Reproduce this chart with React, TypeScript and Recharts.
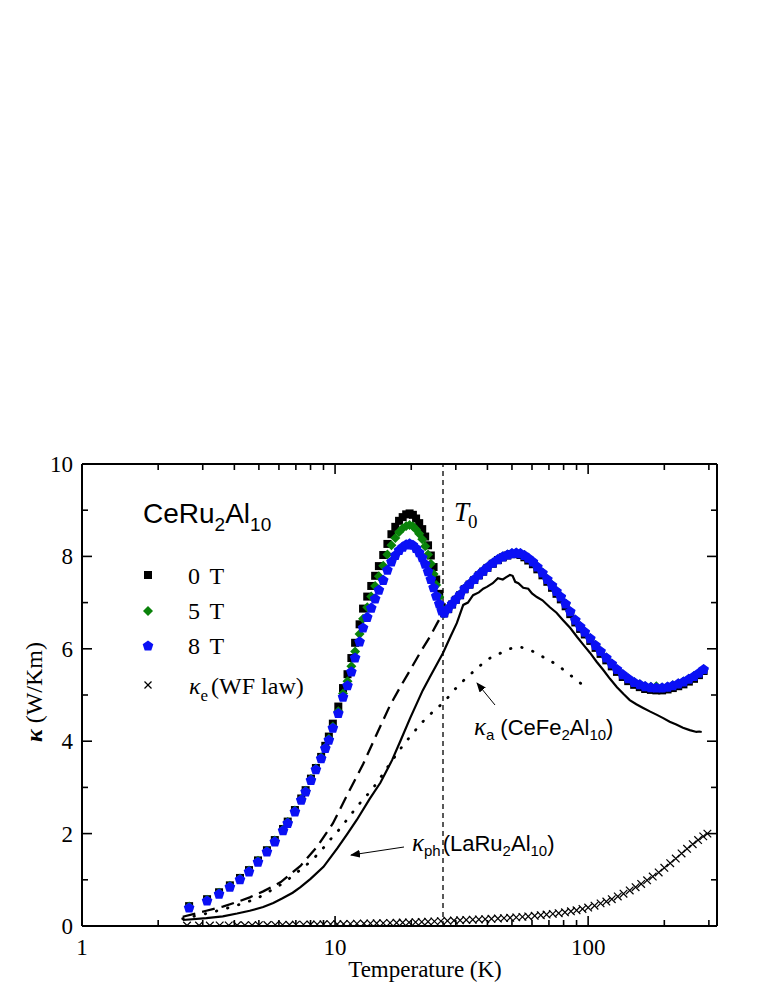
import React from "react";
import { ComposedChart, Line, Scatter, XAxis, YAxis, ReferenceLine } from "recharts";

// ---------------- data ----------------
const temps = [2.65, 3.12, 3.48, 3.84, 4.21, 4.57, 4.96, 5.38, 5.78, 6.23, 6.5, 6.94, 7.35, 7.65, 8.03, 8.4, 8.81, 9.15, 9.45, 9.8,
  10.3, 10.75, 11.2, 11.6, 12.0, 12.5, 12.9, 13.4, 13.9, 14.4, 14.9, 15.5, 16.1, 16.7, 17.3, 17.9, 18.5, 19.1, 19.7, 20.3,
  20.9, 21.5, 22.1, 22.7, 23.3, 23.9, 24.5, 25.1, 25.8, 26.4, 27.0, 28, 29, 30, 31.2, 32.5, 34, 35.5, 37, 38.5,
  40, 42, 44, 46, 48, 50, 52, 54, 56, 58, 60.5, 63, 66, 69, 72, 75, 78, 81.5, 85, 89,
  93, 97, 102, 107, 112, 118, 124, 130, 137, 144, 152, 160, 168, 177, 186, 196, 206, 216, 227, 238,
  250, 262, 274, 286];

const kappa8T = [0.39, 0.54, 0.69, 0.84, 1.0, 1.17, 1.38, 1.6, 1.82, 2.06, 2.22, 2.47, 2.72, 2.9, 3.15, 3.38, 3.62, 3.84, 4.02, 4.28,
  4.6, 4.95, 5.2, 5.5, 5.8, 6.15, 6.45, 6.68, 6.88, 7.08, 7.27, 7.48, 7.7, 7.88, 8.02, 8.13, 8.2, 8.25, 8.27, 8.24,
  8.17, 8.08, 7.97, 7.83, 7.67, 7.5, 7.32, 7.14, 6.97, 6.82, 6.77, 6.87, 6.97, 7.07, 7.17, 7.3, 7.4, 7.5, 7.6, 7.68,
  7.76, 7.85, 7.93, 7.99, 8.03, 8.06, 8.07, 8.06, 8.02, 7.96, 7.88, 7.77, 7.64, 7.5, 7.37, 7.24, 7.12, 6.97, 6.8, 6.62,
  6.48, 6.36, 6.22, 6.07, 5.94, 5.8, 5.67, 5.55, 5.44, 5.35, 5.27, 5.22, 5.18, 5.16, 5.15, 5.15, 5.17, 5.2, 5.24, 5.28,
  5.34, 5.4, 5.47, 5.55];

const kappa5T = [0.42, 0.57, 0.72, 0.87, 1.03, 1.2, 1.41, 1.63, 1.85, 2.09, 2.25, 2.5, 2.75, 2.93, 3.18, 3.41, 3.65, 3.87, 4.06, 4.32,
  4.65, 5.03, 5.3, 5.62, 5.94, 6.32, 6.65, 6.9, 7.13, 7.36, 7.57, 7.8, 8.04, 8.24, 8.4, 8.53, 8.61, 8.66, 8.68, 8.65,
  8.58, 8.49, 8.37, 8.22, 8.04, 7.84, 7.62, 7.38, 7.12, 6.88, 6.77, 6.88, 6.98, 7.08, 7.18, 7.31, 7.41, 7.51, 7.61, 7.69,
  7.77, 7.86, 7.94, 8.0, 8.04, 8.07, 8.08, 8.07, 8.03, 7.97, 7.89, 7.78, 7.65, 7.51, 7.38, 7.25, 7.13, 6.98, 6.81, 6.63,
  6.49, 6.37, 6.23, 6.08, 5.95, 5.81, 5.68, 5.56, 5.45, 5.36, 5.28, 5.23, 5.19, 5.18, 5.19, 5.16, 5.18, 5.21, 5.25, 5.29,
  5.35, 5.41, 5.48, 5.56];

const kappa0T = [0.43, 0.58, 0.73, 0.88, 1.04, 1.21, 1.42, 1.64, 1.86, 2.1, 2.26, 2.51, 2.76, 2.94, 3.19, 3.42, 3.66, 3.9, 4.1, 4.38,
  4.75, 5.15, 5.45, 5.8, 6.13, 6.53, 6.87, 7.13, 7.36, 7.58, 7.79, 8.03, 8.27, 8.48, 8.64, 8.77, 8.85, 8.91, 8.93, 8.9,
  8.82, 8.72, 8.59, 8.43, 8.24, 8.02, 7.77, 7.5, 7.19, 6.9, 6.77, 6.86, 6.96, 7.06, 7.16, 7.29, 7.39, 7.49, 7.59, 7.67,
  7.75, 7.84, 7.92, 7.98, 8.02, 8.05, 8.05, 8.03, 7.98, 7.91, 7.83, 7.72, 7.59, 7.45, 7.32, 7.19, 7.07, 6.92, 6.75, 6.57,
  6.43, 6.31, 6.17, 6.02, 5.89, 5.75, 5.62, 5.5, 5.39, 5.3, 5.22, 5.17, 5.13, 5.11, 5.1, 5.1, 5.12, 5.15, 5.19, 5.23,
  5.29, 5.35, 5.43, 5.52];

// kappa_ph (LaRu2Al10) - solid line
const phT = [2.5, 3.1, 3.6, 4.1, 4.6, 5.2, 5.7, 6.2, 6.8, 7.3, 8.0, 9.0, 10.2, 11.2, 12.2, 13.7, 15.1, 16.8, 18.1, 19.8,
  22.2, 23.7, 26.7, 28.5, 30.3, 32.1, 33.5, 35.1, 37, 38.5, 39.8, 42, 44, 46, 47.5, 49.1, 50.3, 51.5, 53, 55.4,
  58, 60, 62.7, 66, 70.6, 75, 79.6, 85, 90.3, 96, 101.8, 108, 114.8, 122, 130, 138, 146, 155, 165, 176,
  187, 198, 210, 223, 237, 252, 268, 275, 281];
const phK = [0.13, 0.17, 0.21, 0.27, 0.33, 0.41, 0.5, 0.6, 0.72, 0.84, 1.02, 1.28, 1.68, 2.0, 2.3, 2.75, 3.1, 3.59, 4.0, 4.5,
  5.1, 5.39, 5.91, 6.25, 6.56, 6.95, 7.0, 7.16, 7.22, 7.3, 7.34, 7.42, 7.53, 7.5, 7.55, 7.6, 7.58, 7.45, 7.42, 7.32,
  7.3, 7.2, 7.12, 7.05, 6.9, 6.78, 6.62, 6.45, 6.26, 6.08, 5.91, 5.72, 5.54, 5.35, 5.17, 5.02, 4.89, 4.8, 4.72, 4.64,
  4.57, 4.5, 4.42, 4.36, 4.29, 4.24, 4.2, 4.21, 4.2];

// dashed line
const dashT = [2.5, 3.1, 3.6, 4.1, 4.6, 5.2, 6.1, 7.3, 8.5, 9.8, 11.2, 12.9, 14.6, 16.5, 18.0, 19.8, 21.7, 23.7, 25.3, 26.7];
const dashK = [0.2, 0.33, 0.42, 0.52, 0.62, 0.75, 0.95, 1.3, 1.72, 2.22, 2.85, 3.5, 4.15, 4.78, 5.15, 5.54, 5.92, 6.26, 6.55, 6.78];

// kappa_a (CeFe2Al10) - dotted line
const dotT = [2.5, 3.1, 3.6, 4.1, 4.6, 5.0, 5.5, 6.0, 6.6, 7.3, 8.0, 8.7, 9.5, 10.5, 11.5, 12.5, 14.1, 15.5, 17.0, 18.5,
  19.8, 22.2, 24.4, 26.7, 30.3, 35.1, 41, 46.2, 52.4, 59, 66.5, 75.3, 85, 97.5];
const dotK = [0.16, 0.27, 0.36, 0.45, 0.54, 0.62, 0.75, 0.87, 1.03, 1.22, 1.4, 1.6, 1.85, 2.12, 2.4, 2.65, 2.98, 3.3, 3.62, 3.9,
  4.1, 4.42, 4.64, 4.83, 5.17, 5.5, 5.8, 5.93, 6.04, 5.97, 5.82, 5.65, 5.43, 5.17];

// kappa_e (WF law)
const eT = [2.6, 2.9, 3.2, 3.5, 3.8, 4.1, 4.4, 4.7, 5.0, 5.4, 5.8, 6.2, 6.6, 7.0, 7.5, 8.0, 8.5, 9.0, 9.6, 10.2,
  10.8, 11.5, 12.2, 13.0, 13.8, 14.6, 15.5, 16.5, 17.5, 18.5, 19.6, 20.8, 22.0, 23.3, 24.7, 26.2, 27.8, 29.5, 31.2, 33.0,
  35.0, 37.0, 39.2, 41.5, 44.0, 46.5, 49.2, 52.0, 55.0, 58.0, 61.5, 65.0, 68.5, 72.5, 76.5, 81.0, 85.5, 90.0, 95.0, 100,
  106, 112, 118, 124, 131, 138, 146, 154, 162, 171, 180, 190, 200, 211, 222, 234, 246, 259, 272, 285, 296];
const eK = [0.01, 0.01, 0.01, 0.012, 0.013, 0.015, 0.016, 0.017, 0.018, 0.02, 0.022, 0.024, 0.026, 0.028, 0.03, 0.032, 0.034, 0.036, 0.038, 0.04,
  0.043, 0.046, 0.049, 0.052, 0.055, 0.058, 0.062, 0.066, 0.07, 0.074, 0.078, 0.083, 0.088, 0.093, 0.1, 0.106, 0.112, 0.118, 0.124, 0.13,
  0.136, 0.142, 0.148, 0.155, 0.162, 0.17, 0.178, 0.187, 0.197, 0.207, 0.22, 0.233, 0.247, 0.262, 0.278, 0.296, 0.318, 0.34, 0.37, 0.4,
  0.44, 0.49, 0.53, 0.58, 0.64, 0.7, 0.77, 0.84, 0.91, 0.99, 1.07, 1.16, 1.26, 1.36, 1.46, 1.57, 1.67, 1.77, 1.86, 1.94, 2.0];

const T0 = 26.7;
const xTicks = [1, 2, 3, 4, 5, 6, 7, 8, 9, 10, 20, 30, 40, 50, 60, 70, 80, 90, 100, 200, 300];
const xMajorTicks = [1, 10, 100];
const yTicks = [0, 1, 2, 3, 4, 5, 6, 7, 8, 9, 10];
const yMajorTicks = [0, 2, 4, 6, 8, 10];

// ---------------- build tables ----------------
const toRows = (xs: number[], ys: number[]) => xs.map((t, i) => ({ T: t, k: ys[i] }));
const rows0T = toRows(temps, kappa0T);
const rows5T = toRows(temps, kappa5T);
const rows8T = toRows(temps, kappa8T);
const rowsPh = toRows(phT, phK);
const rowsDash = toRows(dashT, dashK);
const rowsDot = toRows(dotT, dotK);
const rowsE = toRows(eT, eK);

const SERIF = "'Liberation Serif', 'Times New Roman', serif";
const SANS = "'Liberation Sans', Arial, sans-serif";

// ---------------- ticks ----------------
const XTickBottom = (p: any) => {
  const { x, y, payload } = p;
  const v = payload.value;
  const major = xMajorTicks.includes(v);
  return (
    <g>
      <line x1={x} y1={y} x2={x} y2={y - (major ? 10 : 6)} stroke="#000" strokeWidth={1.6} />
      {major && (
        <text x={x} y={y + 29} textAnchor="middle" fontFamily={SERIF} fontSize={23} fill="#000">
          {v}
        </text>
      )}
    </g>
  );
};
const XTickTop = (p: any) => {
  const { x, y, payload } = p;
  const major = xMajorTicks.includes(payload.value);
  return <line x1={x} y1={y} x2={x} y2={y + (major ? 10 : 6)} stroke="#000" strokeWidth={1.6} />;
};
const YTickLeft = (p: any) => {
  const { x, y, payload } = p;
  const v = payload.value;
  const major = yMajorTicks.includes(v);
  return (
    <g>
      <line x1={x} y1={y} x2={x + (major ? 10 : 6)} y2={y} stroke="#000" strokeWidth={1.6} />
      {major && (
        <text x={x - 9} y={y + 8} textAnchor="end" fontFamily={SERIF} fontSize={23} fill="#000">
          {v}
        </text>
      )}
    </g>
  );
};
const YTickRight = (p: any) => {
  const { x, y, payload } = p;
  const major = yMajorTicks.includes(payload.value);
  return <line x1={x} y1={y} x2={x - (major ? 10 : 6)} y2={y} stroke="#000" strokeWidth={1.6} />;
};

// ---------------- markers ----------------
const SquareMark = (p: any) => {
  const { cx, cy } = p;
  if (cx == null || cy == null) return null;
  return <rect x={cx - 4} y={cy - 4} width={8} height={8} fill="#000" />;
};
const DiamondMark = (p: any) => {
  const { cx, cy } = p;
  if (cx == null || cy == null) return null;
  const r = 5;
  return <polygon points={`${cx},${cy - r} ${cx + r},${cy} ${cx},${cy + r} ${cx - r},${cy}`} fill="#0a820a" />;
};
const pentPts = (cx: number, cy: number, r: number) =>
  [0, 1, 2, 3, 4]
    .map((i) => {
      const a = -Math.PI / 2 + (i * 2 * Math.PI) / 5;
      return `${cx + r * Math.cos(a)},${cy + r * Math.sin(a)}`;
    })
    .join(" ");
const PentagonMark = (p: any) => {
  const { cx, cy } = p;
  if (cx == null || cy == null) return null;
  return <polygon points={pentPts(cx, cy, 5.6)} fill="#0a10f5" />;
};
const CrossMark = (p: any) => {
  const { cx, cy } = p;
  if (cx == null || cy == null) return null;
  const r = 3.8;
  return (
    <g stroke="#000" strokeWidth={1.2}>
      <line x1={cx - r} y1={cy - r} x2={cx + r} y2={cy + r} />
      <line x1={cx - r} y1={cy + r} x2={cx + r} y2={cy - r} />
    </g>
  );
};
const NoMark = () => null;

// ---------------- overlay (legend, annotations) ----------------
const Overlay = () => (
  <svg width={764} height={985} style={{ position: "absolute", left: 0, top: 0, pointerEvents: "none" }}>
    <defs>
      <marker id="ah" markerWidth="10" markerHeight="8" refX="9" refY="4" orient="auto" markerUnits="userSpaceOnUse">
        <path d="M0,0 L10,4 L0,8 z" fill="#000" />
      </marker>
    </defs>
    {/* y axis title */}
    <text transform="translate(42,692) rotate(-90)" textAnchor="middle" fontFamily={SERIF} fontSize={24} fill="#000">
      <tspan fontStyle="italic" fontWeight="bold">κ</tspan> (W/Km)
    </text>
    {/* x axis title */}
    <text x={425} y={977} textAnchor="middle" fontFamily={SERIF} fontSize={23} fill="#000">
      Temperature (K)
    </text>
    {/* legend title */}
    <text x={143} y={523} fontFamily={SANS} fontSize={28} fill="#000">
      CeRu<tspan fontSize={19} dy={8}>2</tspan>
      <tspan dy={-8}>Al</tspan>
      <tspan fontSize={19} dy={8}>10</tspan>
    </text>
    {/* legend items */}
    <rect x={144} y={571} width={8} height={8} fill="#000" />
    <text x={188} y={584} fontFamily={SERIF} fontSize={24} fill="#000" wordSpacing={4}>0 T</text>
    <polygon points="148,606 153,611 148,616 143,611" fill="#0a820a" />
    <text x={188} y={619} fontFamily={SERIF} fontSize={24} fill="#000" wordSpacing={4}>5 T</text>
    <polygon points={pentPts(148, 646, 5.6)} fill="#0a10f5" />
    <text x={188} y={654} fontFamily={SERIF} fontSize={24} fill="#000" wordSpacing={4}>8 T</text>
    <g stroke="#000" strokeWidth={1.3}>
      <line x1={144.5} y1={681.5} x2={151.5} y2={688.5} />
      <line x1={144.5} y1={688.5} x2={151.5} y2={681.5} />
    </g>
    <text x={189} y={694} fontFamily={SERIF} fontSize={24} fill="#000">
      <tspan fontStyle="italic">κ</tspan>
      <tspan fontSize={17} dy={7}>e</tspan>
      <tspan dy={-7} dx={3}>(WF law)</tspan>
    </text>
    {/* T0 */}
    <text x={454} y={521} fontFamily={SERIF} fontSize={27} fontStyle="italic" fill="#000">T</text>
    <text x={468} y={528} fontFamily={SERIF} fontSize={19} fill="#000">0</text>
    {/* kappa_a annotation */}
    <line x1={495} y1={705} x2={477} y2={683} stroke="#000" strokeWidth={1} markerEnd="url(#ah)" />
    <text x={474} y={735} fontFamily={SANS} fontSize={22} fill="#000">
      <tspan fontFamily={SERIF} fontStyle="italic" fontSize={25}>κ</tspan>
      <tspan fontSize={15} dy={5}>a</tspan>
      <tspan dy={-5} dx={6}>(CeFe</tspan>
      <tspan fontSize={15} dy={5}>2</tspan>
      <tspan dy={-5}>Al</tspan>
      <tspan fontSize={15} dy={5}>10</tspan>
      <tspan dy={-5}>)</tspan>
    </text>
    {/* kappa_ph annotation */}
    <line x1={404} y1={847} x2={351} y2={855} stroke="#000" strokeWidth={1} markerEnd="url(#ah)" />
    <text x={412} y={851} fontFamily={SANS} fontSize={22} fill="#000">
      <tspan fontFamily={SERIF} fontStyle="italic" fontSize={25}>κ</tspan>
      <tspan fontSize={15} dy={5}>ph</tspan>
      <tspan dy={-5} dx={2}>(LaRu</tspan>
      <tspan fontSize={15} dy={5}>2</tspan>
      <tspan dy={-5}>Al</tspan>
      <tspan fontSize={15} dy={5}>10</tspan>
      <tspan dy={-5}>)</tspan>
    </text>
  </svg>
);

export default function App() {
  return (
    <div style={{ position: "relative", width: 764, height: 985 }}>
      <style>{"html,body{margin:0;padding:0;background:#fff;}"}</style>
      <ComposedChart
        width={764}
        height={985}
        margin={{ top: 463, right: 46, bottom: 14, left: 22 }}
      >
        <XAxis
          xAxisId="b"
          dataKey="T"
          type="number"
          scale="log"
          domain={[1, 323]}
          allowDataOverflow
          ticks={xTicks}
          interval={0}
          height={45}
          tickSize={0}
          tickMargin={0}
          tick={XTickBottom}
          tickLine={false}
          axisLine={{ stroke: "#000", strokeWidth: 2 }}
        />
        <XAxis
          xAxisId="t"
          orientation="top"
          dataKey="T"
          type="number"
          scale="log"
          domain={[1, 323]}
          allowDataOverflow
          ticks={xTicks}
          interval={0}
          height={1}
          tickSize={0}
          tickMargin={0}
          tick={XTickTop}
          tickLine={false}
          axisLine={{ stroke: "#000", strokeWidth: 2 }}
        />
        <YAxis
          yAxisId="l"
          type="number"
          domain={[0, 10]}
          allowDataOverflow
          ticks={yTicks}
          interval={0}
          width={60}
          tickSize={0}
          tickMargin={0}
          tick={YTickLeft}
          tickLine={false}
          axisLine={{ stroke: "#000", strokeWidth: 2 }}
        />
        <YAxis
          yAxisId="r"
          orientation="right"
          type="number"
          domain={[0, 10]}
          allowDataOverflow
          ticks={yTicks}
          interval={0}
          width={1}
          tickSize={0}
          tickMargin={0}
          tick={YTickRight}
          tickLine={false}
          axisLine={{ stroke: "#000", strokeWidth: 2 }}
        />
        <ReferenceLine xAxisId="b" yAxisId="l" x={T0} stroke="#000" strokeWidth={1.3} strokeDasharray="5 4" />
        <Scatter xAxisId="t" yAxisId="r" data={rows8T} dataKey="k" shape={NoMark} isAnimationActive={false} />
        <Line xAxisId="b" yAxisId="l" data={rowsPh} dataKey="k" type="linear" stroke="#000" strokeWidth={2.2} dot={false} activeDot={false} isAnimationActive={false} />
        <Line xAxisId="b" yAxisId="l" data={rowsDash} dataKey="k" type="linear" stroke="#000" strokeWidth={2.3} strokeDasharray="13 7" dot={false} activeDot={false} isAnimationActive={false} />
        <Line xAxisId="b" yAxisId="l" data={rowsDot} dataKey="k" type="monotone" stroke="#000" strokeWidth={2.8} strokeDasharray="0.5 11" strokeLinecap="round" dot={false} activeDot={false} isAnimationActive={false} />
        <Scatter xAxisId="b" yAxisId="l" data={rowsE} dataKey="k" shape={CrossMark} isAnimationActive={false} />
        <Scatter xAxisId="b" yAxisId="l" data={rows0T} dataKey="k" shape={SquareMark} isAnimationActive={false} />
        <Scatter xAxisId="b" yAxisId="l" data={rows5T} dataKey="k" shape={DiamondMark} isAnimationActive={false} />
        <Scatter xAxisId="b" yAxisId="l" data={rows8T} dataKey="k" shape={PentagonMark} isAnimationActive={false} />
      </ComposedChart>
      <Overlay />
    </div>
  );
}
